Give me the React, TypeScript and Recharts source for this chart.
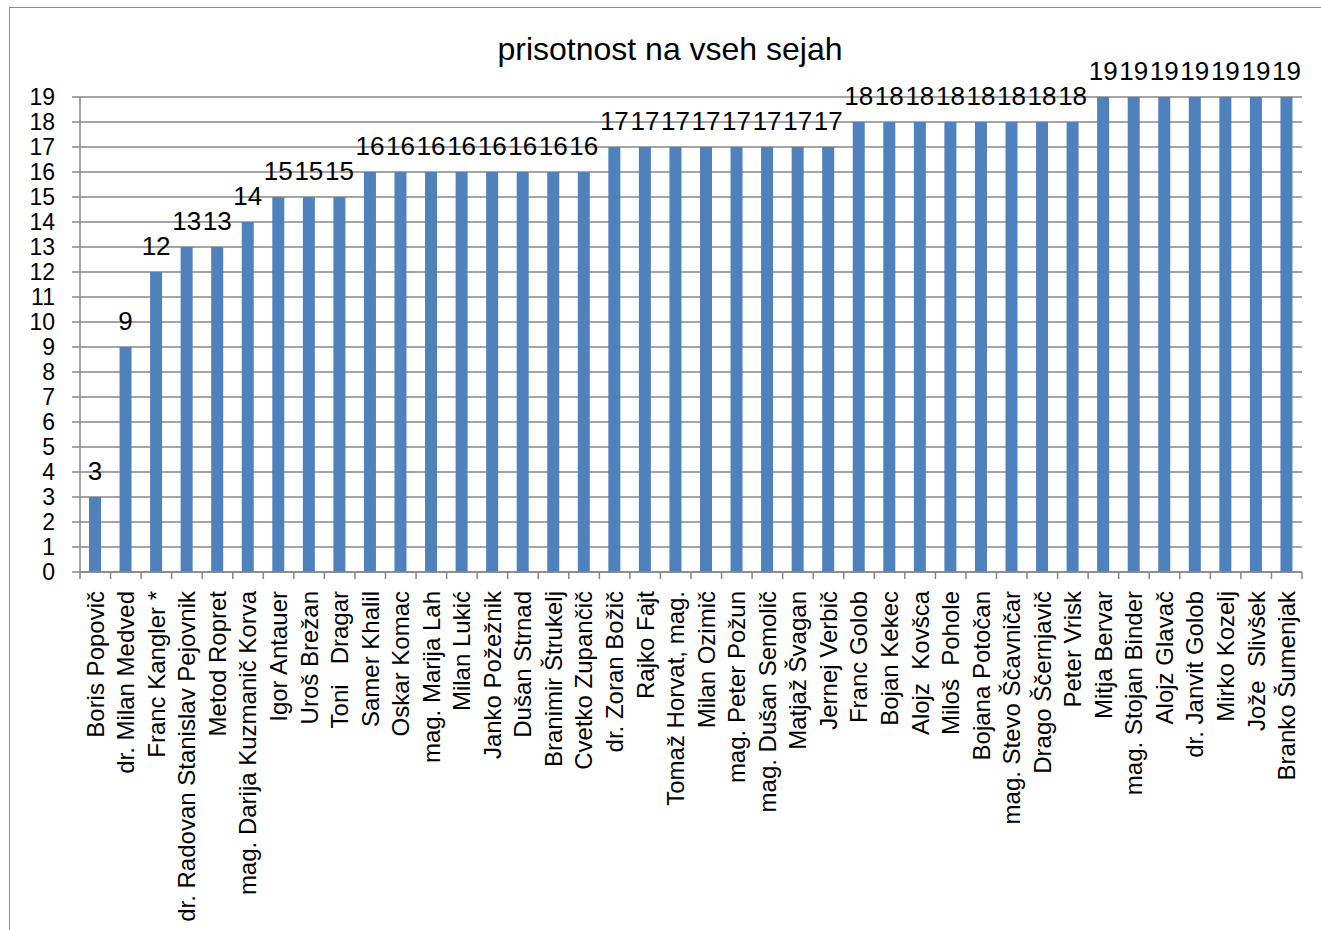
import React from "react";
import { BarChart, Bar, XAxis, YAxis, CartesianGrid, LabelList } from "recharts";

const names = [
  "Boris Popovič",
  "dr. Milan Medved",
  "Franc Kangler *",
  "dr. Radovan Stanislav Pejovnik",
  "Metod Ropret",
  "mag. Darija Kuzmanič Korva",
  "Igor Antauer",
  "Uroš Brežan",
  "Toni   Dragar",
  "Samer Khalil",
  "Oskar Komac",
  "mag. Marija Lah",
  "Milan Lukić",
  "Janko Požežnik",
  "Dušan Strnad",
  "Branimir Štrukelj",
  "Cvetko Zupančič",
  "dr. Zoran Božič",
  "Rajko Fajt",
  "Tomaž Horvat, mag.",
  "Milan Ozimič",
  "mag. Peter Požun",
  "mag. Dušan Semolič",
  "Matjaž Švagan",
  "Jernej Verbič",
  "Franc Golob",
  "Bojan Kekec",
  "Alojz  Kovšca",
  "Miloš  Pohole",
  "Bojana Potočan",
  "mag. Stevo Ščavničar",
  "Drago Ščernjavič",
  "Peter Vrisk",
  "Mitja Bervar",
  "mag. Stojan Binder",
  "Alojz Glavač",
  "dr. Janvit Golob",
  "Mirko Kozelj",
  "Jože  Slivšek",
  "Branko Šumenjak",
];

const sessions = [
  3, 9, 12, 13, 13, 14, 15, 15, 15, 16, 16, 16, 16, 16, 16, 16, 16, 17, 17, 17,
  17, 17, 17, 17, 17, 18, 18, 18, 18, 18, 18, 18, 18, 19, 19, 19, 19, 19, 19, 19,
];

const yTicks = [0, 1, 2, 3, 4, 5, 6, 7, 8, 9, 10, 11, 12, 13, 14, 15, 16, 17, 18, 19];

const title = "prisotnost na vseh sejah";

const data = names.map((name, i) => ({ name, sessions: sessions[i] }));

const W = 1321;
const H = 930;
const PLOT_LEFT = 80;
const PLOT_RIGHT = 1302;
const PLOT_TOP = 97;
const PLOT_BOTTOM = 572;
const STEP = (PLOT_RIGHT - PLOT_LEFT) / names.length;
const GRID = "#878787";

function NameTick(props: any) {
  const { x, y, payload, index } = props;
  const left = x - STEP / 2;
  const ty = y + 19;
  return (
    <g>
      <line x1={left} y1={y} x2={left} y2={y + 7} stroke={GRID} strokeWidth={1.5} />
      {index === names.length - 1 && (
        <line x1={x + STEP / 2} y1={y} x2={x + STEP / 2} y2={y + 7} stroke={GRID} strokeWidth={1.5} />
      )}
      <text
        x={x}
        y={ty}
        transform={`rotate(-90 ${x} ${ty})`}
        textAnchor="end"
        dy="0.35em"
        fontSize={24}
        fill="#000"
        style={{ whiteSpace: "pre" }}
      >
        {payload.value}
      </text>
    </g>
  );
}

export default function App() {
  return (
    <div
      style={{
        position: "fixed",
        left: 0,
        top: 0,
        width: W,
        height: H,
        overflow: "hidden",
        background: "#fff",
        fontFamily: '"Liberation Sans", Arial, sans-serif',
      }}
    >
      <div
        style={{
          position: "absolute",
          left: 9,
          top: 7,
          width: 1400,
          height: 1000,
          border: "1.5px solid #8c8c8c",
        }}
      />
      <div
        style={{
          position: "absolute",
          left: 370,
          top: 33,
          width: 600,
          textAlign: "center",
          fontSize: 32,
          lineHeight: "32px",
          color: "#000",
        }}
      >
        {title}
      </div>
      <div style={{ position: "absolute", left: 0, top: 0 }}>
        <BarChart
          width={W}
          height={H}
          data={data}
          margin={{ top: PLOT_TOP, right: W - PLOT_RIGHT, bottom: 0, left: 0 }}
        >
          <CartesianGrid vertical={false} stroke={GRID} strokeWidth={1.5} />
          <XAxis
            dataKey="name"
            interval={0}
            height={H - PLOT_BOTTOM}
            tickLine={false}
            tickSize={0}
            tickMargin={0}
            axisLine={{ stroke: GRID, strokeWidth: 1.5 }}
            tick={<NameTick />}
          />
          <YAxis
            width={PLOT_LEFT}
            domain={[0, 19]}
            ticks={yTicks}
            interval={0}
            tickSize={8}
            tickMargin={17}
            axisLine={{ stroke: GRID, strokeWidth: 1.5 }}
            tickLine={{ stroke: GRID, strokeWidth: 1.5 }}
            tick={{ fontSize: 23, fill: "#000" }}
          />
          <Bar dataKey="sessions" fill="#4F81BD" barSize={12} isAnimationActive={false}>
            <LabelList dataKey="sessions" position="top" offset={17} fontSize={26} fill="#000" />
          </Bar>
        </BarChart>
      </div>
    </div>
  );
}
